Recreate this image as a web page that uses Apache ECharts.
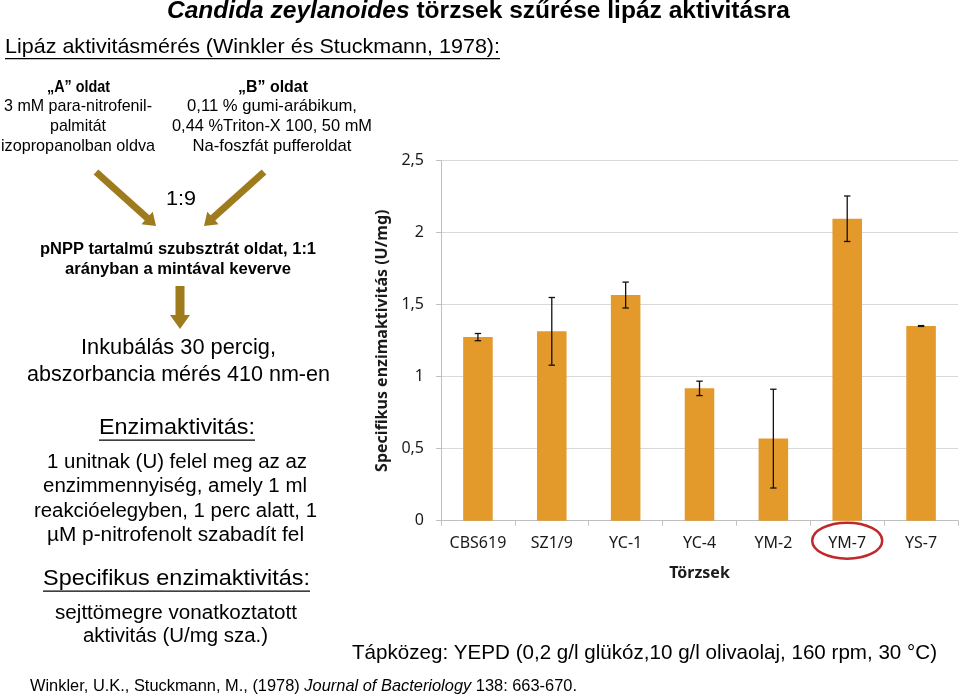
<!DOCTYPE html>
<html><head><meta charset="utf-8">
<script src="https://cdn.jsdelivr.net/npm/echarts@6/dist/echarts.min.js"></script>
<style>html,body{margin:0;padding:0;background:#fff}#c{width:960px;height:696px}</style>
</head><body><div id="c"></div>
<script>
// ---- data ----
const categories = ['CBS619', 'SZ1/9', 'YC-1', 'YC-4', 'YM-2', 'YM-7', 'YS-7'];
const means      = [1.275, 1.315, 1.567, 0.919, 0.570, 2.097, 1.352];
const errors     = [0.025, 0.235, 0.090, 0.050, 0.343, 0.158, 0.003];
const yMin = 0, yMax = 2.5, yStep = 0.5;
const yAxisName = 'Specifikus enzimaktivitás (U/mg)';
const xAxisName = 'Törzsek';
const highlighted = 'YM-7';

// ---- styles ----
const FF = '"Liberation Sans", Arial, sans-serif';
const CF = '"Noto Sans", "Open Sans", sans-serif';
const BAR = '#E4992B';
const ARROW = '#9E7B1C';
const AX = '#BFBFBF';

const ctx = document.createElement('canvas').getContext('2d');
function fontOf(p, size) { return (p.i ? 'italic ' : '') + (p.b ? 'bold ' : '') + size + 'px ' + FF; }
function measure(parts, size) {
  let w = 0;
  for (const p of parts) { ctx.font = fontOf(p, size); w += ctx.measureText(p.s).width; }
  return w;
}

// slide texts: parts, center x, center y, font size, target width, underline
const texts = [
  {p: [{s: 'Candida zeylanoides', i: 1, b: 1}, {s: ' törzsek szűrése lipáz aktivitásra', b: 1}], x: 478.5, y: 11, f: 24, w: 623},
  {p: [{s: 'Lipáz aktivitásmérés (Winkler és Stuckmann, 1978):'}], x: 252.5, y: 47, f: 21, w: 495, u: 1},
  {p: [{s: '„A” oldat', b: 1}], x: 78.5, y: 87, f: 17, w: 63},
  {p: [{s: '3 mM para-nitrofenil-'}], x: 78, y: 106, f: 17, w: 148},
  {p: [{s: 'palmitát'}], x: 78, y: 126, f: 17, w: 56},
  {p: [{s: 'izopropanolban oldva'}], x: 78, y: 146, f: 17, w: 154},
  {p: [{s: '„B” oldat', b: 1}], x: 273, y: 87, f: 17, w: 70},
  {p: [{s: '0,11 % gumi-arábikum,'}], x: 272, y: 106, f: 17, w: 170},
  {p: [{s: '0,44 %Triton-X 100, 50 mM'}], x: 272, y: 126, f: 17, w: 200},
  {p: [{s: 'Na-foszfát pufferoldat'}], x: 272, y: 146, f: 17, w: 159},
  {p: [{s: '1:9'}], x: 181, y: 199, f: 21, w: 30},
  {p: [{s: 'pNPP tartalmú szubsztrát oldat, 1:1', b: 1}], x: 178, y: 250, f: 16, w: 276},
  {p: [{s: 'arányban a mintával keverve', b: 1}], x: 178, y: 270, f: 16, w: 226},
  {p: [{s: 'Inkubálás 30 percig,'}], x: 178.5, y: 348, f: 22, w: 195},
  {p: [{s: 'abszorbancia mérés 410 nm-en'}], x: 178.5, y: 375, f: 22, w: 303},
  {p: [{s: 'Enzimaktivitás:'}], x: 177, y: 428, f: 22, w: 156, u: 1},
  {p: [{s: '1 unitnak (U) felel meg az az'}], x: 177, y: 462, f: 20, w: 260},
  {p: [{s: 'enzimmennyiség, amely 1 ml'}], x: 175, y: 486, f: 20, w: 264},
  {p: [{s: 'reakcióelegyben, 1 perc alatt, 1'}], x: 175.5, y: 511, f: 20, w: 283},
  {p: [{s: 'µM p-nitrofenolt szabadít fel'}], x: 175.5, y: 535, f: 20, w: 257},
  {p: [{s: 'Specifikus enzimaktivitás:'}], x: 176.5, y: 579, f: 22, w: 267, u: 1},
  {p: [{s: 'sejttömegre vonatkoztatott'}], x: 176, y: 613, f: 20, w: 242},
  {p: [{s: 'aktivitás (U/mg sza.)'}], x: 175.5, y: 636, f: 20, w: 185},
  {p: [{s: 'Tápközeg: YEPD (0,2 g/l glükóz,10 g/l olivaolaj, 160 rpm, 30 °C)'}], x: 644.5, y: 653, f: 21, w: 585},
  {p: [{s: 'Winkler, U.K., Stuckmann, M., (1978) '}, {s: 'Journal of Bacteriology', i: 1}, {s: ' 138: 663-670.'}], x: 303.5, y: 686, f: 17, w: 547}
];

const graphics = [];
texts.forEach(function (t) {
  const rich = {};
  let str = '';
  t.p.forEach(function (p, j) {
    const key = 'r' + j;
    rich[key] = {fontFamily: FF, fontSize: t.f, fontWeight: p.b ? 'bold' : 'normal', fontStyle: p.i ? 'italic' : 'normal', fill: '#000'};
    str += '{' + key + '|' + p.s + '}';
  });
  const sx = t.w / measure(t.p, t.f);
  graphics.push({
    type: 'text', x: t.x, y: t.y, scaleX: sx, silent: true,
    style: {text: str, rich: rich, x: 0, y: 0, align: 'center', verticalAlign: 'middle', textAlign: 'center', textVerticalAlign: 'middle'}
  });
  if (t.u) {
    const uy = t.y + t.f * 0.55;
    graphics.push({type: 'line', silent: true, shape: {x1: t.x - t.w / 2, y1: uy, x2: t.x + t.w / 2, y2: uy}, style: {stroke: '#000', lineWidth: 1.3}});
  }
});

function arrow(x1, y1, x2, y2, sw, hw, hl) {
  const L = Math.hypot(x2 - x1, y2 - y1), dx = (x2 - x1) / L, dy = (y2 - y1) / L, nx = -dy, ny = dx;
  const bx = x2 - dx * hl, by = y2 - dy * hl;
  return {type: 'polygon', silent: true, shape: {points: [
    [x1 + nx * sw / 2, y1 + ny * sw / 2], [bx + nx * sw / 2, by + ny * sw / 2], [bx + nx * hw / 2, by + ny * hw / 2],
    [x2, y2], [bx - nx * hw / 2, by - ny * hw / 2], [bx - nx * sw / 2, by - ny * sw / 2], [x1 - nx * sw / 2, y1 - ny * sw / 2]
  ]}, style: {fill: ARROW}};
}
graphics.push(arrow(96, 172, 156, 226, 7, 17, 12));
graphics.push(arrow(264, 172, 204, 226, 7, 17, 12));
graphics.push(arrow(180, 286, 180, 329, 9, 20, 14));

const chart = echarts.init(document.getElementById('c'), null, {renderer: 'canvas'});
chart.setOption({
  animation: false,
  backgroundColor: '#fff',
  grid: {left: 441, right: 2, top: 160.7, bottom: 175.3},
  xAxis: {
    type: 'category', data: categories,
    axisLine: {lineStyle: {color: AX, width: 1}},
    axisTick: {show: true, length: 5, lineStyle: {color: AX}},
    axisLabel: {fontFamily: CF, fontSize: 16, color: '#1a1a1a', margin: 15},
    name: xAxisName, nameLocation: 'middle', nameGap: 45,
    nameTextStyle: {fontFamily: CF, fontSize: 16, fontWeight: 'bold', color: '#1a1a1a'}
  },
  yAxis: {
    type: 'value', min: yMin, max: yMax, interval: yStep,
    axisLine: {show: true, lineStyle: {color: AX}},
    axisTick: {show: true, length: 5, lineStyle: {color: AX}},
    splitLine: {lineStyle: {color: '#D9D9D9'}},
    axisLabel: {fontFamily: CF, fontSize: 16, color: '#1a1a1a', margin: 17, formatter: function (v) { return String(v).replace('.', ','); }},
    name: yAxisName, nameLocation: 'middle', nameGap: 47, nameRotate: 90,
    nameTextStyle: {fontFamily: CF, fontSize: 16, fontWeight: 'bold', color: '#1a1a1a'}
  },
  series: [
    {type: 'bar', data: means, barWidth: '40%', itemStyle: {color: BAR}, silent: true},
    {
      type: 'custom', silent: true, z: 5,
      data: means.map(function (m, i) { return [i, m - errors[i], m + errors[i]]; }),
      encode: {x: 0, y: [1, 2]},
      renderItem: function (params, api) {
        const lo = api.coord([api.value(0), api.value(1)]);
        const hi = api.coord([api.value(0), api.value(2)]);
        const c = 3.2, st = {stroke: '#111', lineWidth: 1.3};
        return {type: 'group', children: [
          {type: 'line', shape: {x1: lo[0], y1: lo[1], x2: hi[0], y2: hi[1]}, style: st},
          {type: 'line', shape: {x1: hi[0] - c, y1: hi[1], x2: hi[0] + c, y2: hi[1]}, style: st},
          {type: 'line', shape: {x1: lo[0] - c, y1: lo[1], x2: lo[0] + c, y2: lo[1]}, style: st}
        ]};
      }
    }
  ],
  graphic: graphics
});

const ex = chart.convertToPixel({xAxisIndex: 0}, highlighted);
const ey = chart.convertToPixel({yAxisIndex: 0}, yMin) + 20;
graphics.push({type: 'ellipse', silent: true, shape: {cx: ex, cy: ey, rx: 35, ry: 18}, style: {fill: 'none', stroke: '#C0282D', lineWidth: 2.5}});
chart.setOption({graphic: graphics}, {replaceMerge: ['graphic']});
</script>
</body></html>
